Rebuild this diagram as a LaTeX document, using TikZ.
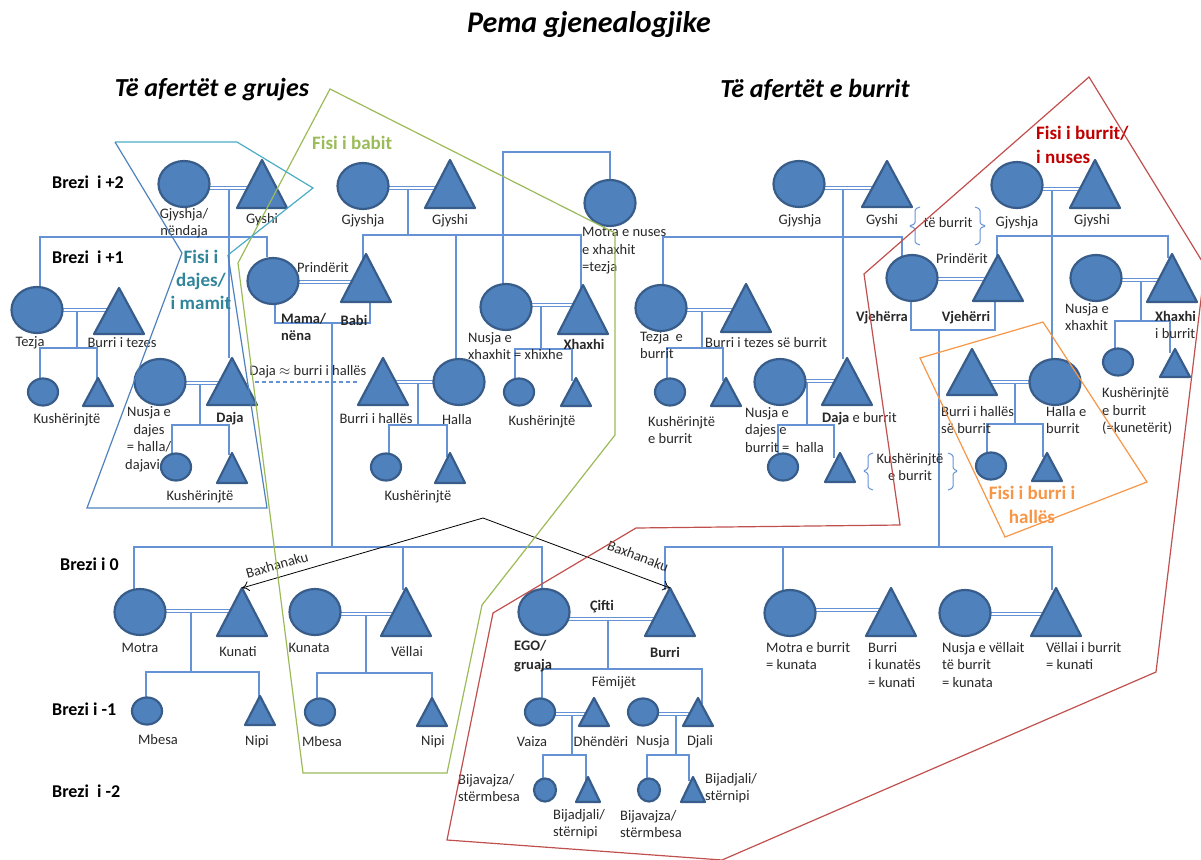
\documentclass[tikz,border=0pt]{standalone}
\usepackage{fontspec}
\setmainfont{Carlito}
\usetikzlibrary{shapes.geometric,arrows.meta}
\definecolor{shf}{RGB}{79,129,189}
\definecolor{shb}{RGB}{56,93,138}
\definecolor{lnc}{RGB}{100,146,212}
\definecolor{txc}{RGB}{40,40,40}
\definecolor{grn}{RGB}{155,187,89}
\definecolor{redl}{RGB}{192,80,77}
\definecolor{redt}{RGB}{192,0,0}
\definecolor{org}{RGB}{247,150,70}
\definecolor{tealt}{RGB}{49,133,155}
\definecolor{cyl}{RGB}{75,172,198}
\definecolor{bll}{RGB}{79,129,189}
\newcommand\lblf{\fontsize{14.5}{17.5}\selectfont}
\newcommand\Tri[5]{\draw[malesh] (#2,#3) -- ({#2+#5},#4) -- ({#2-#5},#4) -- cycle; \coordinate (#1) at (#2,#3);}
\begin{document}
\begin{tikzpicture}[x=1pt,y=-1pt,
 fem/.style={ellipse,draw=shb,fill=shf,line width=2.2pt,inner sep=0pt,outer sep=0pt},
 big/.style={minimum width=51pt,minimum height=46pt},
 mid/.style={minimum width=30pt,minimum height=27pt},
 sml/.style={minimum width=22pt,minimum height=23pt},
 malesh/.style={draw=shb,fill=shf,line width=2.2pt,line join=round},
 conn/.style={draw=lnc,line width=1.3pt},
 marr/.style={draw=lnc,double=white,double distance=2.4pt,line width=1.1pt},
 lbl/.style={font=\lblf,text=txc,inner sep=0pt,align=center},
 lbll/.style={lbl,align=left,anchor=west},
 brz/.style={font=\fontsize{18}{22}\selectfont\bfseries,text=black,inner sep=0pt,anchor=west},
 fisi/.style={font=\fontsize{19}{23}\selectfont\bfseries,inner sep=0pt},
 outl/.style={line width=1.2pt,line join=miter},
 bkt/.style={draw=lnc,line width=1pt,rounded corners=1.5pt},
 bxa/.style={-{To[length=7pt,width=10pt]},draw=black,line width=0.8pt},
]
\useasboundingbox (0,0) rectangle (1201,859);

% ---------- connectors ----------
% left grandparents
\draw[marr] (184,188) -- (262,188);
\draw[conn] (229,190) -- (229,358);
\draw[conn] (40,286) -- (40,237) -- (267,237) -- (267,257);
% tezja
\draw[marr] (37,310) -- (119,310);
\draw[conn] (77,312) -- (77,348);
\draw[conn] (40,378) -- (40,348) -- (97,348) -- (97,381);
% daja
\draw[marr] (160,383) -- (232,383);
\draw[conn] (200,385) -- (200,425);
\draw[conn] (172,453) -- (172,425) -- (229,425) -- (229,455);
% mama / babi
\draw[marr] (273,282) -- (366,282);
\draw[conn] (275,305) -- (275,323) -- (370,323) -- (370,300);
\draw[conn] (332,323) -- (332,547);
% brezi 0 left
\draw[conn] (134,590) -- (134,547) -- (542,547) -- (542,590);
\draw[conn] (403,547) -- (403,590);
% middle grandparents
\draw[marr] (363,188) -- (450,188);
\draw[conn] (408,190) -- (408,235);
\draw[conn] (363,260) -- (363,235) -- (581,235) -- (581,290);
\draw[conn] (456,235) -- (456,360);
% motra e nuses
\draw[conn] (610,180) -- (610,152) -- (503,152) -- (503,284);
% nusja e xhaxhit
\draw[marr] (506,305) -- (583,305);
\draw[conn] (541,307) -- (541,349);
\draw[conn] (515,378) -- (515,349) -- (572,349) -- (572,381);
% halla
\draw[marr] (383,382) -- (459,382);
\draw[conn] (418,384) -- (418,425);
\draw[conn] (389,453) -- (389,425) -- (447,425) -- (447,457);
\draw[conn,dash pattern=on 4pt off 3pt] (255,382) -- (357,382);
% right grandparents (husband's mother)
\draw[marr] (799,188) -- (887,188);
\draw[conn] (843,190) -- (843,359);
\draw[conn] (663,285) -- (663,237) -- (902,237) -- (902,256);
% tezja e burrit
\draw[marr] (661,310) -- (746,310);
\draw[conn] (702,312) -- (702,348);
\draw[conn] (667,378) -- (667,348) -- (723,348) -- (723,381);
% daja e burrit
\draw[marr] (780,381) -- (847,381);
\draw[conn] (807,383) -- (807,425);
\draw[conn] (778,453) -- (778,425) -- (834,425) -- (834,458);
% vjehrra / vjehrri
\draw[marr] (912,279) -- (998,279);
\draw[conn] (911,302) -- (911,330) -- (995,330) -- (995,300);
\draw[conn] (939,330) -- (939,547);
% brezi 0 right
\draw[conn] (665,590) -- (665,547) -- (1052,547) -- (1052,590);
\draw[conn] (783,547) -- (783,590);
% husband's father's parents
\draw[marr] (1017,189) -- (1095,189);
\draw[conn] (1052,191) -- (1052,360);
\draw[conn] (997,258) -- (997,236) -- (1168,236) -- (1168,258);
% nusja e xhaxhit (right)
\draw[marr] (1096,280) -- (1172,280);
\draw[conn] (1141,282) -- (1141,321);
\draw[conn] (1115,349) -- (1115,321) -- (1170,321) -- (1170,353);
% halla e burrit
\draw[marr] (972,382) -- (1055,382);
\draw[conn] (1015,384) -- (1015,424);
\draw[conn] (987,453) -- (987,424) -- (1043,424) -- (1043,457);
% brezi 0 couples
\draw[marr] (140,611) -- (242,611);
\draw[conn] (191,613) -- (191,672);
\draw[conn] (146,697) -- (146,672) -- (259,672) -- (259,699);
\draw[marr] (315,614) -- (406,614);
\draw[conn] (366,616) -- (366,673);
\draw[conn] (317,698) -- (317,673) -- (432,673) -- (432,700);
\draw[marr] (544,619) -- (670,619);
\draw[conn] (608,621) -- (608,669);
\draw[conn] (542,698) -- (542,669) -- (702,669) -- (702,704);
\draw[marr] (790,610) -- (891,610);
\draw[marr] (965,614) -- (1056,614);
\draw[marr] (540,714) -- (594,714);
\draw[marr] (643,714) -- (698,714);
\draw[conn] (572,716) -- (572,755);
\draw[conn] (543,778) -- (543,755) -- (586,755) -- (586,781);
\draw[conn] (676,716) -- (676,755);
\draw[conn] (647,778) -- (647,755) -- (689,755) -- (689,781);

% brackets
\draw[bkt] (873,453) -- (868,455) -- (868,469) -- (863,471) -- (868,473) -- (868,488) -- (873,490);
\draw[bkt] (948,453) -- (953,455) -- (953,469) -- (958,471) -- (953,473) -- (953,488) -- (948,490);
\draw[bkt] (920,207) -- (915,209) -- (915,224) -- (909,226) -- (915,228) -- (915,243) -- (920,245);
\draw[bkt] (975,207) -- (980,209) -- (980,224) -- (986,226) -- (980,228) -- (980,243) -- (975,245);

% ---------- labels under shapes (partly covered) ----------
\node[lbl] (t-nd) at (149,439) {Nusja e\\dajes\\= halla/\\dajavica};
\node[lbll] (t-tzb) at (640,345) {Tezja\ \ e\\burrit};

% ---------- female shapes ----------
\node[fem,big] (gm1) at (184,184) {};
\node[fem,big] (tezja) at (37,310) {};
\node[fem,big] (nd) at (160,382) {};
\node[fem,big] (mama) at (273,281) {};
\node[fem,big] (gm2) at (363,186) {};
\node[fem,big] (mn) at (610,203) {};
\node[fem,big] (nx) at (506,307) {};
\node[fem,big] (halla) at (459,382) {};
\node[fem,big] (gm3) at (799,184) {};
\node[fem,big] (tzb) at (661,308) {};
\node[fem,big] (ndb) at (780,382) {};
\node[fem,big] (vjra) at (912,278) {};
\node[fem,big] (gm4) at (1017,185) {};
\node[fem,big] (nxb) at (1096,278) {};
\node[fem,big] (hb) at (1055,382) {};
\node[fem,big] (motra) at (140,612) {};
\node[fem,big] (kunata) at (315,612) {};
\node[fem,big] (ego) at (544,612) {};
\node[fem,big] (mb) at (790,613) {};
\node[fem,big] (nvb) at (965,613) {};
\node[fem,mid] (k1) at (43,392) {};
\node[fem,mid] (k2) at (176,467) {};
\node[fem,mid] (k3) at (519,392) {};
\node[fem,mid] (k4) at (386,467) {};
\node[fem,mid] (k5) at (670,392) {};
\node[fem,mid] (k6) at (783,467) {};
\node[fem,mid] (k7) at (1118,362) {};
\node[fem,mid] (k8) at (991,466) {};
\node[fem,mid] (mbesa1) at (147,711) {};
\node[fem,mid] (mbesa2) at (320,712) {};
\node[fem,mid] (vaiza) at (540,712) {};
\node[fem,mid] (nusja) at (643,712) {};
\node[fem,sml] (bv1) at (545,790) {};
\node[fem,sml] (bv2) at (649,790) {};

% ---------- male shapes ----------
\Tri{gf1}{262}{160}{208}{25}
\Tri{gf2}{450}{160}{208}{25}
\Tri{btz}{119}{288}{334}{25}
\Tri{daja}{232}{358}{405}{25}
\Tri{babi}{366}{254}{302}{25}
\Tri{xhx}{583}{285}{334}{25}
\Tri{bh}{383}{358}{405}{25}
\Tri{gf3}{887}{161}{207}{25}
\Tri{btzb}{746}{284}{332}{25}
\Tri{dajab}{847}{358}{405}{25}
\Tri{vjri}{998}{255}{301}{25}
\Tri{gf4}{1095}{160}{208}{25}
\Tri{xhxb}{1172}{254}{302}{25}
\Tri{bhb}{972}{349}{395}{25}
\Tri{kunati}{242}{588}{636}{25}
\Tri{vellai}{406}{588}{636}{25}
\Tri{burri}{670}{588}{636}{25}
\Tri{bk}{891}{588}{636}{25}
\Tri{vb}{1056}{588}{636}{25}
\Tri{m1}{98}{378}{406}{15}
\Tri{m2}{232}{453}{483}{15}
\Tri{m3}{576}{378}{406}{15}
\Tri{m4}{450}{453}{483}{15}
\Tri{m5}{726}{378}{406}{15}
\Tri{m6}{840}{453}{482}{15}
\Tri{m7}{1175}{349}{377}{15}
\Tri{m8}{1047}{453}{481}{15}
\Tri{nipi1}{260}{696}{725}{15}
\Tri{nipi2}{432}{698}{726}{15}
\Tri{dhend}{594}{698}{726}{15}
\Tri{djali}{698}{698}{726}{15}
\Tri{bd1}{588}{777}{802}{12}
\Tri{bd2}{693}{777}{802}{12}

% ---------- baxhanaku ----------
\coordinate (bx) at (483,518);
\draw[bxa] (bx) -- (kunati);
\draw[bxa] (bx) -- (burri);
\node[lbl,rotate=16] (bxl1) at (277,565) {Baxhanaku};
\node[lbl,rotate=-20.7] (bxl2) at (638,556) {Baxhanaku};

% ---------- titles ----------
\node[font=\fontsize{30}{36}\selectfont\bfseries\itshape,inner sep=0pt] (title) at (589,25) {Pema gjenealogjike};
\node[font=\fontsize{26}{31}\selectfont\bfseries\itshape,inner sep=0pt] (h1) at (212,90) {Të afertët e grujes};
\node[font=\fontsize{26}{31}\selectfont\bfseries\itshape,inner sep=0pt] (h2) at (815,90) {Të afertët e burrit};
\node[brz] (b2) at (52,182) {Brezi\ \ i +2};
\node[brz] (b1) at (52,257) {Brezi\ \ i +1};
\node[brz] (b0) at (60,564) {Brezi i 0};
\node[brz] (bm1) at (52,709) {Brezi i -1};
\node[brz] (bm2) at (52,791) {Brezi\ \ i -2};

\node[fisi,text=grn,anchor=west] (f1) at (312,143) {Fisi i babit};
\node[fisi,text=tealt,align=center] (f2) at (201,280) {Fisi i\\dajes/\\i mamit};
\node[fisi,text=redt,align=left,anchor=west,font=\fontsize{19}{24}\selectfont\bfseries] (f3) at (1036,145) {Fisi i burrit/\\i nuses};
\node[fisi,text=org,align=center,font=\fontsize{19}{24}\selectfont\bfseries] (f4) at (1032,505) {Fisi i burri i\\hallës};

% ---------- labels ----------
\node[lbl] (t1) at (184,223) {Gjyshja/\\nëndaja};
\node[lbl] (t2) at (262,220) {Gyshi};
\node[lbl] (t3) at (363,221) {Gjyshja};
\node[lbl] (t4) at (450,221) {Gjyshi};
\node[lbll] (t5) at (582,251) {Motra e nuses\\e xhaxhit\\=tezja};
\node[lbl] (t6) at (800,221) {Gjyshja};
\node[lbl] (t7) at (882,221) {Gyshi};
\node[lbl] (t8) at (948,223) {të burrit};
\node[lbl] (t9) at (1017,223) {Gjyshja};
\node[lbl] (t10) at (1092,221) {Gjyshi};
\node[lbll] (t11) at (297,268) {Prindërit};
\node[lbll,font=\fontsize{14.5}{17}\selectfont\bfseries] (t12) at (281,327) {Mama/\\nëna};
\node[lbl,font=\fontsize{14.5}{17}\selectfont\bfseries] (t13) at (354,320) {Babi};
\node[lbl] (t14) at (30,343) {Tezja};
\node[lbl] (t15) at (122,343) {Burri i tezes};
\node[lbl] (t16) at (67,420) {Kushërinjtë};
\node[lbl,font=\fontsize{14.5}{17}\selectfont\bfseries] (t17) at (230,419) {Daja};
\node[lbl] (t18) at (200,497) {Kushërinjtë};
\node[lbl] (t19) at (308,372) {Daja $\approx$ burri i hallës};
\node[lbll] (t20) at (468,346) {Nusja e\\xhaxhit = xhixhe};
\node[lbl,font=\fontsize{14.5}{17}\selectfont\bfseries] (t21) at (584,344) {Xhaxhi};
\node[lbl] (t22) at (542,422) {Kushërinjtë};
\node[lbl] (t23) at (376,419) {Burri i hallës};
\node[lbl] (t24) at (457,420) {Halla};
\node[lbl] (t25) at (418,497) {Kushërinjtë};
\node[lbll] (t26) at (705,343) {Burri i tezes së burrit};
\node[lbll] (t27) at (648,430) {Kushërinjtë\\e burrit};
\node[lbll] (t28) at (745,430) {Nusja e\\dajes e\\burrit =\ \ halla};
\node[lbll] (t29) at (822,419) {\textbf{Daja} e burrit};
\node[lbl] (t30) at (910,467) {Kushërinjtë\\e burrit};
\node[lbl,font=\fontsize{14.5}{17}\selectfont\bfseries] (t31) at (882,318) {Vjehërra};
\node[lbl,font=\fontsize{14.5}{17}\selectfont\bfseries] (t32) at (966,318) {Vjehërri};
\node[lbl] (t33) at (962,259) {Prindërit};
\node[lbll] (t34) at (1065,317) {Nusja e\\xhaxhit};
\node[lbll] (t35) at (1155,325) {\textbf{Xhaxhi}\\i burrit};
\node[lbll] (t36) at (1102,411) {Kushërinjtë\\e burrit\\(=kunetërit)};
\node[lbll] (t37) at (941,420) {Burri i hallës\\së burrit};
\node[lbll] (t38) at (1046,420) {Halla e\\burrit};
\node[lbl] (t39) at (140,648) {Motra};
\node[lbl] (t40) at (238,652) {Kunati};
\node[lbl] (t41) at (158,740) {Mbesa};
\node[lbl] (t42) at (257,742) {Nipi};
\node[lbl] (t43) at (309,648) {Kunata};
\node[lbl] (t44) at (407,652) {Vëllai};
\node[lbl] (t45) at (322,742) {Mbesa};
\node[lbl] (t46) at (433,742) {Nipi};
\node[lbll,font=\fontsize{14.5}{19}\selectfont\bfseries] (t47) at (514,656) {EGO/\\gruaja};
\node[lbl,font=\fontsize{14.5}{17}\selectfont\bfseries] (t48) at (665,652) {Burri};
\node[lbl,font=\fontsize{14.5}{17}\selectfont\bfseries] (t49) at (602,607) {Çifti};
\node[lbl] (t50) at (614,683) {Fëmijët};
\node[lbl] (t51) at (532,742) {Vaiza};
\node[lbl] (t52) at (601,742) {Dhëndëri};
\node[lbl] (t53) at (653,742) {Nusja};
\node[lbl] (t54) at (700,742) {Djali};
\node[lbll] (t55) at (458,788) {Bijavajza/\\stërmbesa};
\node[lbll] (t56) at (553,824) {Bijadjali/\\stërnipi};
\node[lbll] (t57) at (620,824) {Bijavajza/\\stërmbesa};
\node[lbll] (t58) at (705,788) {Bijadjali/\\stërnipi};
\node[lbll] (t59) at (766,656) {Motra e burrit\\= kunata};
\node[lbll] (t60) at (868,665) {Burri\\i kunatës\\= kunati};
\node[lbll] (t61) at (942,665) {Nusja e vëllait\\të burrit\\= kunata};
\node[lbll] (t62) at (1046,656) {Vëllai i burrit\\= kunati};

% ---------- group outlines ----------
\draw[grn,outl] (330,89) -- (615,233) -- (615,435) -- (482,605) -- (447,773) -- (303,773) -- (238,263) -- cycle;
\draw[cyl,outl] (115,142) -- (237,142) -- (313,188) -- (228,255);
\draw[bll,outl] (115,142) -- (182,253) -- (87,508) -- (267,508) -- (228,255);
\draw[redl,outl] (1089,77) -- (1205,266) -- (1156,672) -- (722,860) -- (447,840) -- (493,613) -- (636,528) -- (900,525) -- (864,274) -- cycle;
\draw[org,outl] (920,358) -- (1043,322) -- (1147,482) -- (1005,537) -- cycle;
\end{tikzpicture}
\end{document}
